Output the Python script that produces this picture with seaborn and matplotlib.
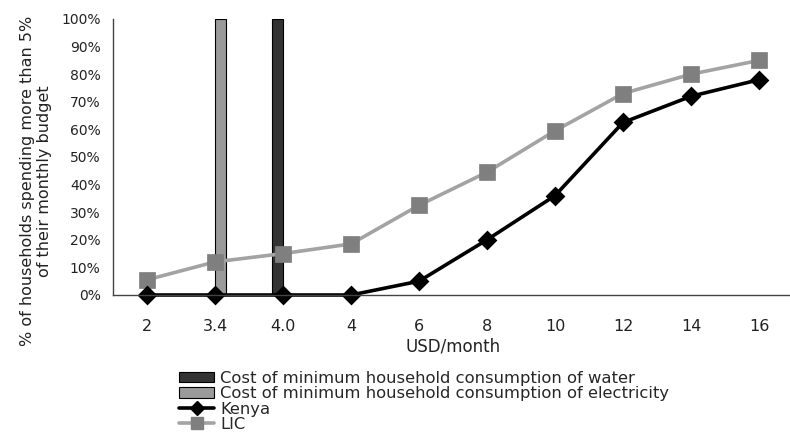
import matplotlib
matplotlib.use("Agg")
import matplotlib.pyplot as plt
import seaborn as sns
import pandas as pd
from matplotlib.patches import Patch
from matplotlib.lines import Line2D
from matplotlib.ticker import FuncFormatter, FixedLocator

# ---- data ----
categories = ["2", "3.4", "4.0", "4", "6", "8", "10", "12", "14", "16"]
kenya = [0, 0, 0, 0, 5, 20, 36, 62.5, 72, 78]
lic = [5.5, 12, 15, 18.5, 32.5, 44.5, 59.5, 73, 80, 85]
bar_series = ["Cost of minimum household consumption of water",
              "Cost of minimum household consumption of electricity"]
bar_categories = ["4.0", "3.4"]
bar_values = [100, 100]
line_names = ["Kenya", "LIC"]

sns.set_style("white")
plt.rcParams['font.family'] = ['DejaVu Sans']

TXT = "#222222"
fig = plt.figure(figsize=(7.9, 4.37), dpi=100)
ax = fig.add_axes([113 / 790, 142 / 437, 680 / 790, 276 / 437])

bars_df = pd.DataFrame({"cat": bar_categories, "val": bar_values, "series": bar_series})
sns.barplot(data=bars_df, x="cat", y="val", hue="series", order=categories,
            hue_order=bar_series, palette=["#333333", "#9a9a9a"],
            dodge=True, width=0.32, edgecolor="black", linewidth=0.8,
            legend=False, ax=ax)

lines_df = pd.DataFrame({
    "cat": categories * 2,
    "val": kenya + lic,
    "series": [line_names[0]] * len(categories) + [line_names[1]] * len(categories),
})
# LIC first so Kenya draws on top
sns.pointplot(data=lines_df[lines_df.series == "LIC"], x="cat", y="val", order=categories,
              color="#a3a3a3", markers="s", linewidth=2.6, markersize=9.5,
              markerfacecolor="#7f7f7f", markeredgecolor="#7f7f7f", ax=ax)
sns.pointplot(data=lines_df[lines_df.series == "Kenya"], x="cat", y="val", order=categories,
              color="black", markers="D", linewidth=2.6, markersize=8, ax=ax)
for ln in ax.lines:
    ln.set_clip_on(False)

ax.set_xlim(-0.5, 9.5)
ax.set_ylim(0, 100)
ax.yaxis.set_major_locator(FixedLocator(range(0, 101, 10)))
ax.yaxis.set_major_formatter(FuncFormatter(lambda v, p: f"{int(v)}%"))
ax.set_xticks(range(len(categories)))
ax.set_xticklabels(categories, fontsize=11.5, color=TXT)
ax.set_xticks([i - 0.5 for i in range(len(categories) + 1)], minor=True)
ax.tick_params(axis="x", which="major", length=0, pad=17)
ax.tick_params(axis="x", which="minor", length=5, width=1, color="#444444", direction="out")
ax.tick_params(axis="y", which="major", length=5, width=1, color="#444444", direction="out",
               labelsize=10, labelcolor=TXT, pad=4)
for s in ["top", "right"]:
    ax.spines[s].set_visible(False)
for s in ["left", "bottom"]:
    ax.spines[s].set_color("#444444")
    ax.spines[s].set_linewidth(1)
ax.set_xlabel("USD/month", fontsize=12, color=TXT, labelpad=3)
ax.set_ylabel("% of households spending more than 5%\nof their monthly budget",
              fontsize=11.5, color=TXT, linespacing=1.2)
ax.yaxis.set_label_coords((52 - 113) / 680, (295 - 181) / 276)
ax.grid(False)

handles = [
    Patch(facecolor="#333333", edgecolor="black", linewidth=0.8),
    Patch(facecolor="#9a9a9a", edgecolor="black", linewidth=0.8),
    Line2D([], [], color="black", lw=2.6, marker="D", markersize=7),
    Line2D([], [], color="#a3a3a3", lw=2.6, marker="s", markersize=8,
           markerfacecolor="#7f7f7f", markeredgecolor="#7f7f7f"),
]
labels = bar_series + line_names
fig.legend(handles, labels, loc="upper left", bbox_to_anchor=(179 / 790, 1 - 371 / 437),
           frameon=False, fontsize=11.8, handlelength=2.15, handleheight=0.6,
           handletextpad=0.35, labelspacing=0.02, borderpad=0, borderaxespad=0)

fig.savefig("out.png", dpi=100, facecolor="white")
